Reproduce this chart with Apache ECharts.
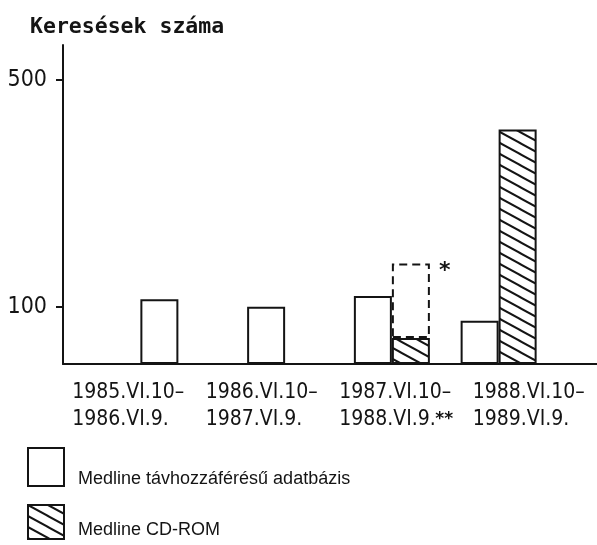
<!DOCTYPE html>
<html>
<head>
<meta charset="utf-8">
<script src="https://cdn.jsdelivr.net/npm/echarts@6/dist/echarts.min.js"></script>
<style>
  html, body { margin: 0; padding: 0; background: #fff; }
  #chart { width: 597px; height: 545px; }
</style>
</head>
<body>
<div id="chart"></div>
<script>
// periods (two lines each), the ** marks a note in the source
const categories = [
  '1985.VI.10–\n1986.VI.9.',
  '1986.VI.10–\n1987.VI.9.',
  '1987.VI.10–\n1988.VI.9.**',
  '1988.VI.10–\n1989.VI.9.'
];
const seriesNames = ['Medline távhozzáférésű adatbázis', 'Medline CD-ROM'];
const remoteValues = [114, 101, 120, 76];
const cdromValues = [null, null, 46, 413];
// projected CD-ROM total for the whole year (dashed outline, marked *)
const projectedValues = [null, null, 177, null];
const yTicks = [100, 500];
const yAxisMax = 562;

const ink = '#141414';
const labelFont = '"DejaVu Sans Condensed", "DejaVu Sans", sans-serif';

// diagonal hatch used for the CD-ROM bars
function makeHatch() {
  const w = 20, h = 11;
  const c = document.createElement('canvas');
  c.width = w;
  c.height = h;
  const ctx = c.getContext('2d');
  ctx.fillStyle = '#fff';
  ctx.fillRect(0, 0, w, h);
  ctx.strokeStyle = ink;
  ctx.lineWidth = 2;
  for (let k = -1; k <= 1; k++) {
    ctx.beginPath();
    ctx.moveTo(k * w - w, -h);
    ctx.lineTo(k * w + 2 * w, 2 * h);
    ctx.stroke();
  }
  return c;
}

const chart = echarts.init(document.getElementById('chart'));

const dashedPart = projectedValues.map((v, i) => (v == null ? null : v - (cdromValues[i] || 0)));

// one legend per item: the text sits low next to its box, as in the source
function legendFor(name, top, size, drop) {
  return {
    orient: 'vertical',
    left: 22,
    top: top,
    icon: 'rect',
    itemWidth: 36,
    itemHeight: size,
    data: [name],
    selectedMode: false,
    formatter: function (n) { return '\n' + n; },
    textStyle: {
      fontFamily: '"Liberation Sans", Arial, sans-serif',
      fontSize: 18,
      lineHeight: drop,
      color: ink,
      padding: [0, 0, 0, 9]
    }
  };
}

const option = {
  animation: false,
  backgroundColor: '#fff',
  title: {
    text: 'Keresések száma',
    left: 25,
    top: 11,
    textStyle: {
      fontFamily: '"DejaVu Sans Mono", monospace',
      fontSize: 21.5,
      fontWeight: 'bold',
      color: ink
    }
  },
  legend: [
    legendFor(seriesNames[0], 438, 38, 24),
    legendFor(seriesNames[1], 499, 34, 16)
  ],
  grid: [
    { left: 63, right: 0, top: 45, bottom: 181 },   // axes + labels
    { left: 125, right: 45, top: 45, bottom: 181 }  // bars
  ],
  xAxis: [
    {
      type: 'category',
      gridIndex: 0,
      data: categories,
      axisLine: { lineStyle: { color: ink, width: 2 } },
      axisTick: { show: false },
      axisLabel: {
        margin: 15,
        color: ink,
        formatter: function (value) {
          const lines = value.split('\n');
          return lines.map(function (l) {
            if (l.endsWith('**')) {
              return '{d|' + l.slice(0, -2) + '}{s|**}';
            }
            return '{t|' + l + '}';
          }).join('\n');
        },
        rich: {
          t: { width: 115, align: 'left', fontFamily: labelFont, fontSize: 21, lineHeight: 27, color: ink },
          d: { width: 96, align: 'left', fontFamily: labelFont, fontSize: 21, lineHeight: 27, color: ink },
          s: { width: 19, align: 'left', fontFamily: '"DejaVu Sans", sans-serif', fontSize: 17, fontWeight: 'bold', lineHeight: 27, color: ink }
        }
      }
    },
    {
      type: 'category',
      gridIndex: 1,
      data: categories,
      show: false
    }
  ],
  yAxis: [
    {
      type: 'value',
      gridIndex: 0,
      min: 0,
      max: yAxisMax,
      axisLine: { show: true, lineStyle: { color: ink, width: 2 } },
      axisTick: { show: true, length: 7, customValues: yTicks, lineStyle: { color: ink, width: 2 } },
      axisLabel: { customValues: yTicks, margin: 16, fontFamily: labelFont, fontSize: 23, color: ink },
      splitLine: { show: false }
    },
    {
      type: 'value',
      gridIndex: 1,
      min: 0,
      max: yAxisMax,
      show: false
    }
  ],
  series: [
    {
      name: seriesNames[0],
      type: 'bar',
      xAxisIndex: 1,
      yAxisIndex: 1,
      barWidth: 38,
      barGap: 0,
      data: remoteValues,
      itemStyle: { color: '#fff', borderColor: ink, borderWidth: 2 }
    },
    {
      name: seriesNames[1],
      type: 'bar',
      xAxisIndex: 1,
      yAxisIndex: 1,
      stack: 'cd',
      barWidth: 38,
      data: cdromValues,
      itemStyle: {
        color: { image: makeHatch(), repeat: 'repeat' },
        borderColor: ink,
        borderWidth: 2
      }
    },
    {
      name: 'projected',
      type: 'bar',
      xAxisIndex: 1,
      yAxisIndex: 1,
      stack: 'cd',
      barWidth: 38,
      data: dashedPart,
      z: 1,
      itemStyle: { color: 'rgba(0,0,0,0)', borderColor: ink, borderWidth: 2, borderType: [8, 5] },
      label: {
        show: true,
        formatter: '*',
        position: [47, -3],
        fontFamily: '"DejaVu Sans", sans-serif',
        fontSize: 22,
        fontWeight: 'bold',
        color: ink
      }
    }
  ]
};

chart.setOption(option);
window.addEventListener('resize', function () {
  chart.resize();
});
</script>
</body>
</html>
